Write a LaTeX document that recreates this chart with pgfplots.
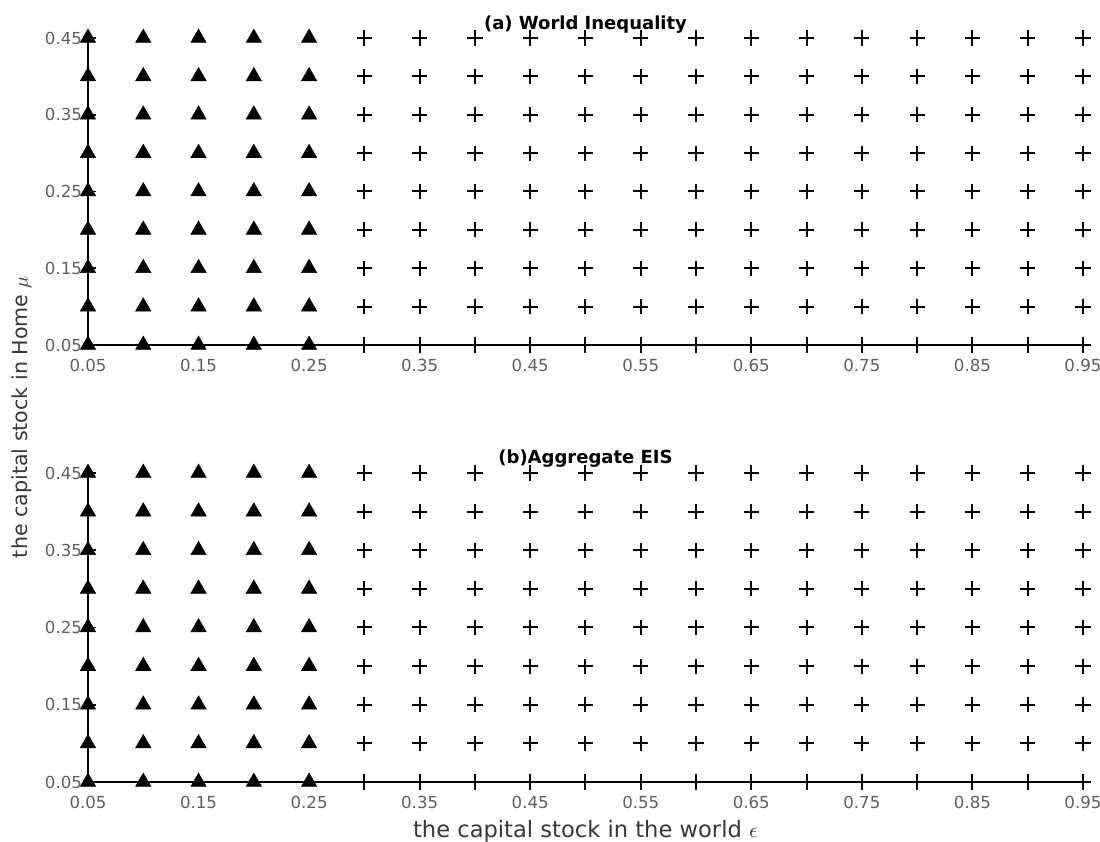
\documentclass[border=0pt]{standalone}
\usepackage{pgfplots}
\pgfplotsset{compat=1.18}
\usepackage{pgfplotstable}
\usepackage{fontspec}
\setmainfont{DejaVu Sans}
\definecolor{ticklab}{RGB}{95,95,95}
\definecolor{labcol}{RGB}{55,55,55}

\pgfplotstableread{
x y
0.05 0.05
0.05 0.10
0.05 0.15
0.05 0.20
0.05 0.25
0.05 0.30
0.05 0.35
0.05 0.40
0.05 0.45
0.10 0.05
0.10 0.10
0.10 0.15
0.10 0.20
0.10 0.25
0.10 0.30
0.10 0.35
0.10 0.40
0.10 0.45
0.15 0.05
0.15 0.10
0.15 0.15
0.15 0.20
0.15 0.25
0.15 0.30
0.15 0.35
0.15 0.40
0.15 0.45
0.20 0.05
0.20 0.10
0.20 0.15
0.20 0.20
0.20 0.25
0.20 0.30
0.20 0.35
0.20 0.40
0.20 0.45
0.25 0.05
0.25 0.10
0.25 0.15
0.25 0.20
0.25 0.25
0.25 0.30
0.25 0.35
0.25 0.40
0.25 0.45
}\tri

\pgfplotstableread{
x y
0.30 0.05
0.30 0.10
0.30 0.15
0.30 0.20
0.30 0.25
0.30 0.30
0.30 0.35
0.30 0.40
0.30 0.45
0.35 0.05
0.35 0.10
0.35 0.15
0.35 0.20
0.35 0.25
0.35 0.30
0.35 0.35
0.35 0.40
0.35 0.45
0.40 0.05
0.40 0.10
0.40 0.15
0.40 0.20
0.40 0.25
0.40 0.30
0.40 0.35
0.40 0.40
0.40 0.45
0.45 0.05
0.45 0.10
0.45 0.15
0.45 0.20
0.45 0.25
0.45 0.30
0.45 0.35
0.45 0.40
0.45 0.45
0.50 0.05
0.50 0.10
0.50 0.15
0.50 0.20
0.50 0.25
0.50 0.30
0.50 0.35
0.50 0.40
0.50 0.45
0.55 0.05
0.55 0.10
0.55 0.15
0.55 0.20
0.55 0.25
0.55 0.30
0.55 0.35
0.55 0.40
0.55 0.45
0.60 0.05
0.60 0.10
0.60 0.15
0.60 0.20
0.60 0.25
0.60 0.30
0.60 0.35
0.60 0.40
0.60 0.45
0.65 0.05
0.65 0.10
0.65 0.15
0.65 0.20
0.65 0.25
0.65 0.30
0.65 0.35
0.65 0.40
0.65 0.45
0.70 0.05
0.70 0.10
0.70 0.15
0.70 0.20
0.70 0.25
0.70 0.30
0.70 0.35
0.70 0.40
0.70 0.45
0.75 0.05
0.75 0.10
0.75 0.15
0.75 0.20
0.75 0.25
0.75 0.30
0.75 0.35
0.75 0.40
0.75 0.45
0.80 0.05
0.80 0.10
0.80 0.15
0.80 0.20
0.80 0.25
0.80 0.30
0.80 0.35
0.80 0.40
0.80 0.45
0.85 0.05
0.85 0.10
0.85 0.15
0.85 0.20
0.85 0.25
0.85 0.30
0.85 0.35
0.85 0.40
0.85 0.45
0.90 0.05
0.90 0.10
0.90 0.15
0.90 0.20
0.90 0.25
0.90 0.30
0.90 0.35
0.90 0.40
0.90 0.45
0.95 0.05
0.95 0.10
0.95 0.15
0.95 0.20
0.95 0.25
0.95 0.30
0.95 0.35
0.95 0.40
0.95 0.45
}\crs

\pgfplotsset{
  panel/.style={
    scale only axis,
    width=497.5pt,
    anchor=south west,
    xmin=0.05, xmax=0.95,
    ymin=0.05, ymax=0.45,
    axis lines=left,
    axis line style={-, line width=0.9pt, black},
    clip=false,
    xtick={0.05,0.15,0.25,0.35,0.45,0.55,0.65,0.75,0.85,0.95},
    ytick={0.05,0.15,0.25,0.35,0.45},
    tick align=inside,
    major tick length=4pt,
    tick style={black, line width=0.8pt},
    /pgf/number format/assume math mode=true,
    /pgf/number format/.cd, fixed, precision=2, zerofill, /pgfplots/.cd,
    ticklabel style={font=\fontsize{8.3}{10}\selectfont, text=ticklab},
    xticklabel style={yshift=-3.5pt},
    yticklabel style={xshift=0.5pt},
  },
  trimark/.style={only marks, mark=triangle*, mark size=4.4pt, mark options={fill=black, draw=black, line width=0.3pt}},
  crsmark/.style={only marks, mark=+, mark size=3.8pt, mark options={black, line width=1pt}},
}

\begin{document}
\begin{tikzpicture}
\useasboundingbox (0,0) rectangle (550pt,421pt);

\begin{axis}[panel, at={(44pt,248.5pt)}, height=153.5pt]
\addplot[trimark] table[x=x, y=y] {\tri};
\addplot[crsmark] table[x=x, y=y] {\crs};
\node[font=\bfseries\fontsize{9}{10}\selectfont, anchor=center, yshift=6.5pt] at (rel axis cs:0.5,1) {(a) World Inequality};
\end{axis}

\begin{axis}[panel, at={(44pt,30pt)}, height=154.5pt]
\addplot[trimark] table[x=x, y=y] {\tri};
\addplot[crsmark] table[x=x, y=y] {\crs};
\node[font=\bfseries\fontsize{9}{10}\selectfont, anchor=center, yshift=7pt] at (rel axis cs:0.5,1) {(b)Aggregate EIS};
\end{axis}

\node[font=\fontsize{11.3}{13}\selectfont, text=labcol] at (292.75pt,5.5pt) {the capital stock in the world $\epsilon$};
\node[font=\fontsize{10.3}{12}\selectfont, text=labcol, rotate=90] at (11pt,212.5pt) {the capital stock in Home $\mu$};
\end{tikzpicture}
\end{document}
